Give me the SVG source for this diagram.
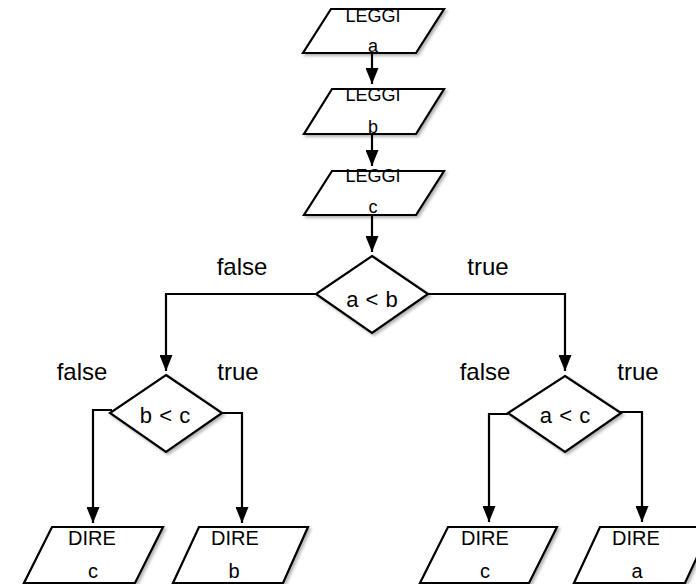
<svg xmlns="http://www.w3.org/2000/svg" width="696" height="584" viewBox="0 0 696 584">
<style>
.shape{fill:#fff;stroke:#000;stroke-width:2.2;stroke-linejoin:miter;filter:url(#sh)}
.conn{fill:none;stroke:#000;stroke-width:2.2}
text{font-family:"Liberation Sans",Arial,Helvetica,sans-serif;fill:#000;text-anchor:middle}
.lbl{font-size:24px}
.cond{font-size:22px;word-spacing:1px}
.io{font-size:18px}
.out{font-size:20px}
</style>
<defs>
<filter id="sh" x="-10%" y="-10%" width="130%" height="130%">
<feDropShadow dx="2" dy="2" stdDeviation="1.5" flood-color="#000" flood-opacity="0.3"/>
</filter>
<marker id="arr" markerUnits="userSpaceOnUse" markerWidth="16" markerHeight="13" refX="16" refY="6.5" orient="auto">
<path d="M0,0 L16,6.5 L0,13 z" fill="#000"/>
</marker>
</defs>
<rect width="696" height="584" fill="#fff"/>
<g id="connectors">
<path class="conn" d="M372,53 V84" marker-end="url(#arr)"/>
<path class="conn" d="M372,134 V166" marker-end="url(#arr)"/>
<path class="conn" d="M372,215 V252" marker-end="url(#arr)"/>
<path class="conn" d="M316,294 H166 V371" marker-end="url(#arr)"/>
<path class="conn" d="M428,294 H565 V371" marker-end="url(#arr)"/>
<path class="conn" d="M112,410 H93 V523" marker-end="url(#arr)"/>
<path class="conn" d="M222,413 H242 V523" marker-end="url(#arr)"/>
<path class="conn" d="M508,414 H489 V522" marker-end="url(#arr)"/>
<path class="conn" d="M620,412 H642 V522" marker-end="url(#arr)"/>
<text class="lbl" x="242" y="275">false</text>
<text class="lbl" x="488" y="275">true</text>
<text class="lbl" x="82" y="380">false</text>
<text class="lbl" x="238" y="380">true</text>
<text class="lbl" x="485" y="380">false</text>
<text class="lbl" x="638" y="380">true</text>
</g>
<g id="read_a">
<polygon class="shape" points="331,9 444,9 416,53 303,53"/>
<text class="io" x="373" y="22">LEGGI</text>
<text class="io" x="373" y="52">a</text>
</g>
<g id="read_b">
<polygon class="shape" points="332,89 444,89 416,134 304,134"/>
<text class="io" x="373" y="101">LEGGI</text>
<text class="io" x="373" y="133">b</text>
</g>
<g id="read_c">
<polygon class="shape" points="332,171 444,171 416,215 304,215"/>
<text class="io" x="373" y="182">LEGGI</text>
<text class="io" x="373" y="213">c</text>
</g>
<g id="cond_ab">
<polygon class="shape" points="372,256 428,294 372,333 316,294"/>
<text class="cond" x="372" y="307">a &lt; b</text>
</g>
<g id="cond_bc">
<polygon class="shape" points="166,375 222,413 166,452 110,413"/>
<text class="cond" x="165" y="423">b &lt; c</text>
</g>
<g id="cond_ac">
<polygon class="shape" points="565,376 621,413 565,452 508,413"/>
<text class="cond" x="565" y="423">a &lt; c</text>
</g>
<g id="out_c1">
<polygon class="shape" points="52,527 163,527 135,583 24,583"/>
<text class="out" x="92" y="545">DIRE</text>
<text class="out" x="93" y="578">c</text>
</g>
<g id="out_b">
<polygon class="shape" points="199,527 308,527 283,583 173,583"/>
<text class="out" x="235" y="545">DIRE</text>
<text class="out" x="234" y="578">b</text>
</g>
<g id="out_c2">
<polygon class="shape" points="448,527 557,527 529,583 420,583"/>
<text class="out" x="485" y="545">DIRE</text>
<text class="out" x="485" y="578">c</text>
</g>
<g id="out_a">
<polygon class="shape" points="600,527 711,527 685,583 574,583"/>
<text class="out" x="636" y="545">DIRE</text>
<text class="out" x="637" y="578">a</text>
</g>
</svg>
